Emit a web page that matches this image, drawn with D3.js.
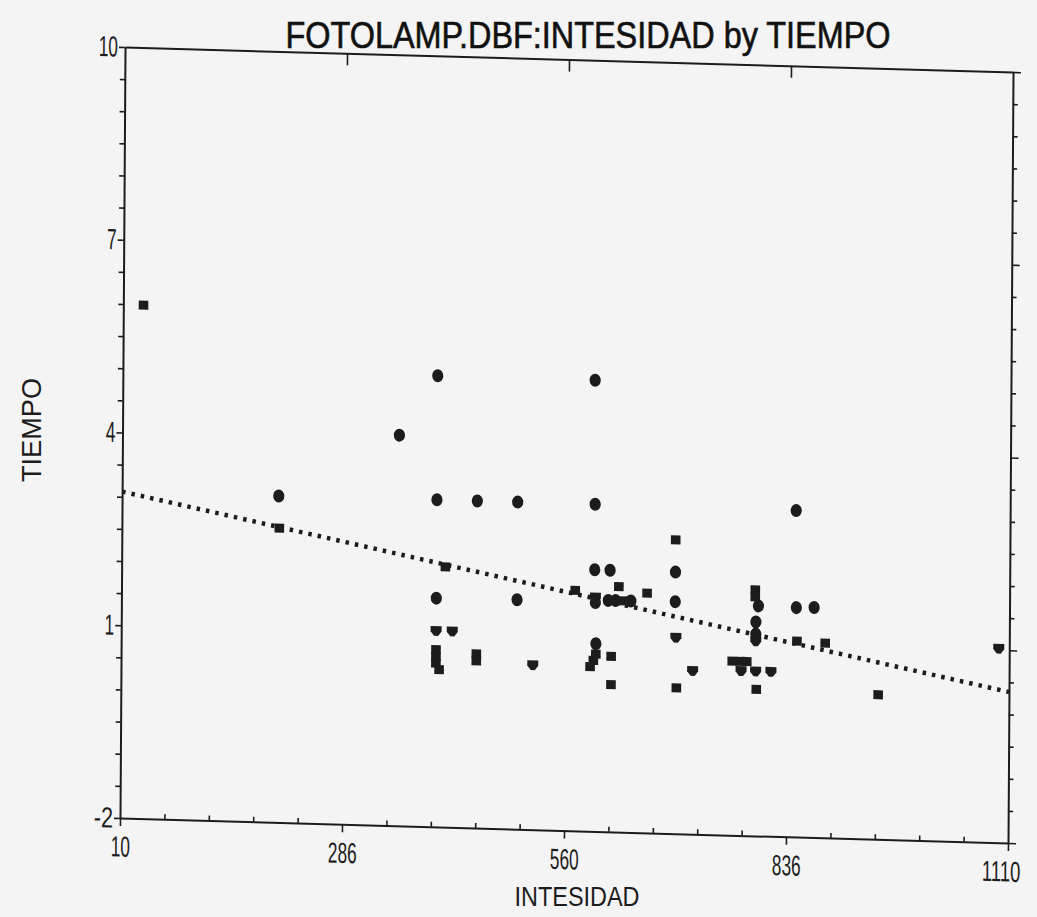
<!DOCTYPE html>
<html><head><meta charset="utf-8">
<script src="https://cdn.jsdelivr.net/npm/d3@7"></script>
<style>html,body{margin:0;padding:0;background:#f4f4f4;} svg{display:block;}</style>
</head><body><svg id="c" width="1037" height="917"></svg>
<script>
// ---- data ----
const intensidad = [35, 204, 205, 353, 400, 400, 450, 500, 596, 595, 845, 411, 572, 400, 500, 400, 420,
  400, 400, 400, 404, 450, 450, 520, 596, 615, 626, 661, 597, 597, 613, 622, 632, 641,
  696, 696, 696, 697, 718, 698, 617, 617, 598, 598, 595, 591, 767, 777, 785, 778,
  795, 795, 799, 796, 796, 796, 796, 815, 797, 846, 868, 847, 882, 948, 1097];
const tiempo = [5.99, 3.08, 2.58, 4.08, 5.02, 3.09, 3.09, 3.09, 3.09, 5.02, 3.08, 2.05, 1.74, 1.56, 1.57, 1.05, 1.05,
  0.76, 0.65, 0.55, 0.45, 0.71, 0.60, 0.56, 2.07, 2.07, 1.82, 1.73, 1.64, 1.56, 1.60, 1.60, 1.60, 1.60,
  2.57, 2.07, 1.61, 1.05, 0.54, 0.27, 0.73, 0.29, 0.92, 0.76, 0.66, 0.56, 0.71, 0.71, 0.71, 0.56,
  1.83, 1.72, 1.58, 1.33, 1.14, 1.03, 0.56, 0.56, 0.28, 1.57, 1.58, 1.05, 1.03, 0.25, 1.02];
const grupo = ["S","C","S","C","C","C","C","C","C","C","C","S","S","C","C","T","T",
  "S","S","S","S","S","S","T","C","C","S","S","T","C","C","C","S","C",
  "S","C","C","T","T","S","S","S","C","S","S","S","S","S","S","T",
  "S","S","C","C","C","T","T","T","S","C","C","S","S","S","T"];
const fitIntensidad = [10, 1110];
const fitTiempo = [3.08, 0.35];
const xTickValues = [10, 285, 560, 835, 1110];
const xTickLabels = ["10", "286", "560", "836", "1110"];
const yTickValues = [10, 7, 4, 1, -2];
const yTickLabels = ["10", "7", "4", "1", "-2"];
const titleText = "FOTOLAMP.DBF:INTESIDAD by TIEMPO";
const xTitle = "INTESIDAD";
const yTitle = "TIEMPO";

// ---- drawing ----
const W = 1037, H = 917;
const ink = "#1c1c1c";
const FONT = "'Liberation Sans Narrow', 'Liberation Sans', Arial, sans-serif";
const svg = d3.select("#c");
svg.append("rect").attr("width", W).attr("height", H).attr("fill", "#f4f4f4");

const PL = 120, PR = 1008, PT = 47, PB = 818;
const x = d3.scaleLinear().domain([10, 1110]).range([PL, PR]);
const y = d3.scaleLinear().domain([-2, 10]).range([PB, PT]);

// slight skew to mimic the scanned page
const sb = 0.02815, sc = -0.0065;
const g = svg.append("g")
  .attr("transform", `matrix(1,${sb},${sc},1,${-sc * PB},${-sb * PL})`);

function styleAxis(sel) {
  sel.selectAll("path.domain").attr("stroke", ink).attr("stroke-width", 2);
  sel.selectAll(".tick line").attr("stroke", ink).attr("stroke-width", 1.6);
  sel.selectAll("text").attr("fill", ink).attr("font-family", FONT).attr("font-size", 29)
    .attr("lengthAdjust", "spacingAndGlyphs");
}

const xMinor = d3.range(10, 1110.1, 55).filter(v => !xTickValues.includes(v));
const yMinor = d3.range(-2, 10.01, 0.5).filter(v => !yTickValues.includes(v));

// bottom
const axBottom = g.append("g").attr("transform", `translate(0,${PB})`)
  .call(d3.axisBottom(x).tickValues(xTickValues).tickFormat((d, i) => xTickLabels[i])
    .tickSize(8).tickSizeOuter(0).tickPadding(10));
styleAxis(axBottom);
const nX = xTickValues.length;
axBottom.selectAll("text").attr("textLength", (d, i) => xTickLabels[i].length * 9.6)
  .attr("text-anchor", (d, i) => i === nX - 1 ? "end" : "middle")
  .attr("x", (d, i) => i === nX - 1 ? 12 : 0);
const axBottomMinor = g.append("g").attr("transform", `translate(0,${PB})`)
  .call(d3.axisTop(x).tickValues(xMinor).tickFormat("").tickSize(5).tickSizeOuter(0));
axBottomMinor.select("path.domain").remove();
styleAxis(axBottomMinor);

// top
const axTop = g.append("g").attr("transform", `translate(0,${PT})`)
  .call(d3.axisBottom(x).tickValues([285, 560, 835]).tickFormat("").tickSize(12).tickSizeOuter(0));
styleAxis(axTop);

// left
const axLeft = g.append("g").attr("transform", `translate(${PL},0)`)
  .call(d3.axisLeft(y).tickValues(yTickValues).tickFormat((d, i) => yTickLabels[i])
    .tickSize(6).tickSizeOuter(0).tickPadding(1));
styleAxis(axLeft);
axLeft.selectAll("text").attr("textLength", (d, i) => yTickLabels[i].length * 9.6);
const axLeftMinor = g.append("g").attr("transform", `translate(${PL},0)`)
  .call(d3.axisLeft(y).tickValues(yMinor).tickFormat("").tickSize(5).tickSizeOuter(0));
axLeftMinor.select("path.domain").remove();
styleAxis(axLeftMinor);

// right
const axRight = g.append("g").attr("transform", `translate(${PR},0)`)
  .call(d3.axisRight(y).tickValues(yTickValues).tickFormat("").tickSize(8).tickSizeOuter(0));
styleAxis(axRight);
const axRightMinor = g.append("g").attr("transform", `translate(${PR},0)`)
  .call(d3.axisRight(y).tickValues(yMinor).tickFormat("").tickSize(5).tickSizeOuter(0));
axRightMinor.select("path.domain").remove();
styleAxis(axRightMinor);

// regression line drawn as a chain of small marks
const fit = fitIntensidad.map((v, i) => [v, fitTiempo[i]]);
g.append("path")
  .attr("d", d3.line().x(d => x(d[0])).y(d => y(d[1]))(fit))
  .attr("fill", "none").attr("stroke", ink).attr("stroke-width", 4.5)
  .attr("stroke-dasharray", "3.5 6");

// points
const pts = intensidad.map((v, i) => ({ xv: v, yv: tiempo[i], k: grupo[i] }));
const shield = "M-5.5,-4.8L5.5,-4.8L5.5,0.5L2,5L-2,5L-5.5,0.5Z";
const mk = g.append("g");
pts.forEach(p => {
  const px = x(p.xv), py = y(p.yv);
  if (p.k === "C") {
    mk.append("ellipse").attr("cx", px).attr("cy", py).attr("rx", 5.6).attr("ry", 6.5).attr("fill", ink);
  } else if (p.k === "S") {
    mk.append("rect").attr("x", px - 4.8).attr("y", py - 4.5).attr("width", 9.6).attr("height", 9).attr("fill", ink);
  } else {
    mk.append("path").attr("d", shield).attr("transform", `translate(${px},${py})`).attr("fill", ink);
  }
});

// titles
svg.append("text").attr("x", 588).attr("y", 48).attr("text-anchor", "middle")
  .attr("font-family", FONT).attr("font-size", 36).attr("fill", "#111")
  .attr("stroke", "#111").attr("stroke-width", 0.6)
  .attr("textLength", 605).attr("lengthAdjust", "spacingAndGlyphs").text(titleText);
svg.append("text").attr("x", 577).attr("y", 906).attr("text-anchor", "middle")
  .attr("font-family", FONT).attr("font-size", 28).attr("fill", ink)
  .attr("textLength", 125).attr("lengthAdjust", "spacingAndGlyphs").text(xTitle);
svg.append("text").attr("transform", "translate(41,430) rotate(-90)").attr("text-anchor", "middle")
  .attr("font-family", FONT).attr("font-size", 28).attr("fill", ink)
  .attr("textLength", 104).attr("lengthAdjust", "spacingAndGlyphs").text(yTitle);
</script>
</body></html>
